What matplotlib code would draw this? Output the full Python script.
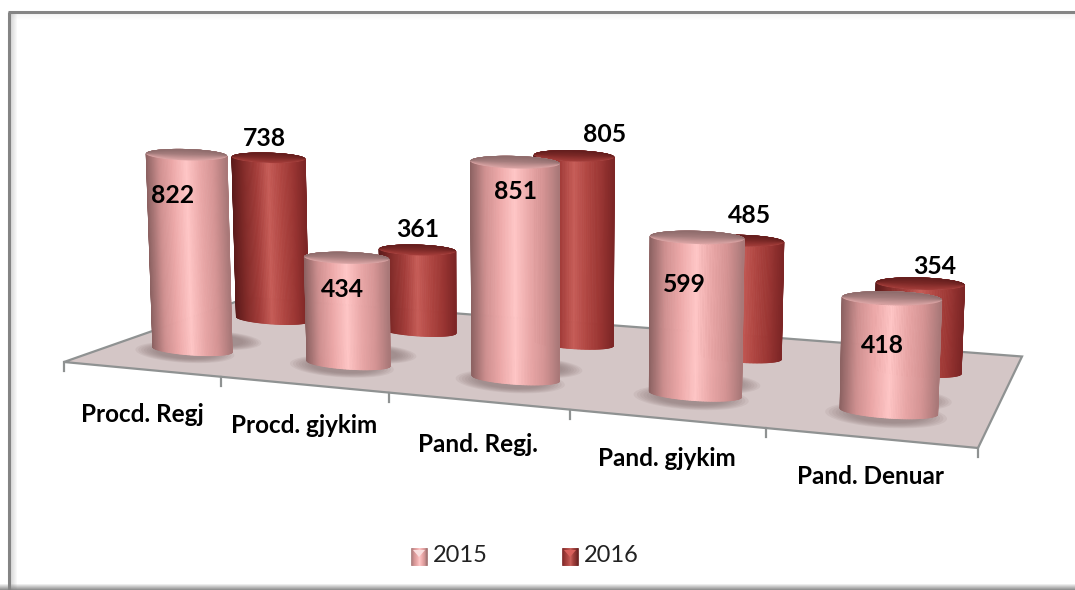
import matplotlib
matplotlib.use("Agg")
import matplotlib.pyplot as plt
import numpy as np
from matplotlib.collections import PolyCollection
from matplotlib.colors import LinearSegmentedColormap
from matplotlib.patches import Polygon, Rectangle, Ellipse

plt.rcParams["font.family"] = ["Lato", "DejaVu Sans"]

categories = ["Procd. Regj", "Procd. gjykim", "Pand. Regj.", "Pand. gjykim", "Pand. Denuar"]
years = ["2015", "2016"]
values_2015 = [822, 434, 851, 599, 418]
values_2016 = [738, 361, 805, 485, 354]

# label offsets from the top of each cylinder, picked by eye
label_off_2015 = [(-14, 41), (-4, 32), (1, 29), (-13, 47), (-9, 47)]
label_off_2016 = [(-4, -19), (0, -21), (30, -21), (8, -25), (14, -17)]
name_off = [(1, 45), (1, 41), (0, 44), (1, 40), (1, 39)]

pink = LinearSegmentedColormap.from_list("pink", ["#a97878", "#d59494", "#eaa8a8", "#ffc6c6", "#eda9a9", "#cf9090", "#8c6262"])
red = LinearSegmentedColormap.from_list("red", ["#7d2626", "#9b3633", "#b04642", "#c65c57", "#a23c39", "#842c2a", "#5c1b1b"])
pink_cap = LinearSegmentedColormap.from_list("pcap", ["#8a6868", "#a47c7c", "#d8a2a2"])
red_cap = LinearSegmentedColormap.from_list("rcap", ["#5f1c1c", "#7a2826", "#a23c39"])

# floor corners in pixels -> homography for u in 0..5, v in 0..1
src = [(0, 0), (5, 0), (5, 1), (0, 1)]
dst = [(64, 362), (978, 448), (1022, 356.5), (248, 297.5)]
A = []
b = []
for (u, v), (x, y) in zip(src, dst):
    A.append([u, v, 1, 0, 0, 0, -u * x, -v * x])
    A.append([0, 0, 0, u, v, 1, -u * y, -v * y])
    b += [x, y]
h = np.linalg.solve(np.array(A, float), np.array(b, float))
H = np.append(h, 1).reshape(3, 3)

V_FRONT, V_BACK = 0.26, 0.72


def project(u, v, z=0.0):
    # height column of the camera, vertical vanishing point far below the chart
    w0 = H[2, 0] * 0.5 + H[2, 1] * V_FRONT + 1
    bz = -0.24 * w0
    cz = bz / 12500
    az = cz * 560
    w = H[2, 0] * u + H[2, 1] * v + cz * z + 1
    x = (H[0, 0] * u + H[0, 1] * v + az * z + H[0, 2]) / w
    y = (H[1, 0] * u + H[1, 1] * v + bz * z + H[1, 2]) / w
    return x, y


fig = plt.figure(figsize=(10.75, 5.9), dpi=100)
ax = fig.add_axes([0, 0, 1, 1])
ax.set_xlim(0, 1075)
ax.set_ylim(590, 0)
ax.axis("off")

# frame: left and top lines, soft shadows, bottom fade. no line on the right
for i in range(7):
    ax.add_patch(Rectangle((10 + i, 12), 1, 578, color="#707070", alpha=0.3 * (1 - i / 7), lw=0, zorder=1))
    ax.add_patch(Rectangle((10, 13 + i), 1065, 1, color="#707070", alpha=0.08 * (1 - i / 7), lw=0, zorder=1))
    ax.add_patch(Rectangle((0, 584 + i), 1075, 1, color="#808080", alpha=(i + 1) / 7, lw=0, zorder=1))
ax.plot([9, 9], [590, 11.5], color="#848484", lw=2.2, solid_capstyle="butt", zorder=2)
ax.plot([8, 1075], [11.5, 11.5], color="#848484", lw=2.2, solid_capstyle="butt", zorder=2)

# floor
ax.add_patch(Polygon(dst, closed=True, fc="#d4c6c6", ec="#8f9292", lw=1.6, zorder=3))
for k in range(len(categories) + 1):
    x, y = project(k, 0)
    ax.plot([x, x], [y, y + 9], color="#8f9292", lw=1.6, zorder=3)


def shadow(u, v, a, zo):
    x, y = project(u, v)
    for f in np.linspace(1, 0.6, 8):
        ax.add_patch(Ellipse((x, y), 2.5 * a * f, 0.52 * a * f, angle=3.5, fc="#8a7474", ec="none", alpha=0.12, zorder=zo))


def half_width(u, v):
    local = project(u + 0.5, v)[0] - project(u - 0.5, v)[0]
    return (12 + 0.183 * local) * (1 - 0.11 * (v - V_FRONT))


def cylinder(u, v, val, cmap, capmap, zo):
    a = half_width(u, v)
    x0, y0 = project(u, v)
    x1, y1 = project(u, v, val)
    th = np.linspace(np.pi, 0, 90)
    bx = x0 + a * np.cos(th)
    by = y0 + 0.065 * a * np.cos(th) + 0.14 * a * np.sin(th)
    a1 = a * 1.02
    tx = x1 + a1 * np.cos(th)
    ty = y1 + 0.03 * a1 * np.cos(th) + 0.14 * a1 * np.sin(th)
    ty_back = y1 + 0.03 * a1 * np.cos(th) - 0.14 * a1 * np.sin(th)
    # side as thin strips, stroked in their own colour so no seams show
    t = (1 - np.cos(th)) / 2
    verts = []
    cols = []
    for i in range(len(th) - 1):
        verts.append([(bx[i], by[i]), (bx[i + 1], by[i + 1]), (tx[i + 1], ty[i + 1]), (tx[i], ty[i])])
        cols.append(cmap((t[i] + t[i + 1]) / 2))
    ax.add_collection(PolyCollection(verts, facecolors=cols, edgecolors=cols, linewidths=0.6, zorder=zo))
    # cap: lens shapes shrinking towards the back edge, darker each step
    for f in np.linspace(1, 0.1, 10):
        yf = ty_back + (ty - ty_back) * f
        pts = np.r_[np.c_[tx, ty_back], np.c_[tx[::-1], yf[::-1]]]
        ax.add_patch(Polygon(pts, closed=True, fc=capmap(f), ec="none", zorder=zo + 0.1))
    return x1, y1


for k in range(len(categories)):
    shadow(k + 0.5, V_BACK - 0.33, half_width(k + 0.5, V_BACK), 4)
    shadow(k + 0.5, V_FRONT - 0.04, half_width(k + 0.5, V_FRONT), 4)

zo = 10
for k, val in enumerate(values_2016):
    x, y = cylinder(k + 0.5, V_BACK, val, red, red_cap, zo)
    ax.text(x + label_off_2016[k][0], y + label_off_2016[k][1], str(val), ha="center", va="center",
            fontsize=17.8, fontweight="bold", color="black", zorder=40)
    zo += 1
for k, val in enumerate(values_2015):
    x, y = cylinder(k + 0.5, V_FRONT, val, pink, pink_cap, zo)
    ax.text(x + label_off_2015[k][0], y + label_off_2015[k][1], str(val), ha="center", va="center",
            fontsize=17.8, fontweight="bold", color="black", zorder=40)
    zo += 1

for k, name in enumerate(categories):
    x, y = project(k + 0.5, 0)
    ax.text(x + name_off[k][0], y + name_off[k][1], name, ha="center", va="center", fontsize=17.5,
            fontweight="bold", color="black", zorder=40)

# legend
for xi, xt, year, cmap, light in zip([411, 562], [433, 584], years, [pink, red], ["#f9dede", "#d8605c"]):
    g = np.linspace(0, 1, 17)
    cols = [cmap(v) for v in g[:-1]]
    verts = [[(xi + 16 * g[i], 548), (xi + 16 * g[i + 1], 548), (xi + 16 * g[i + 1], 565), (xi + 16 * g[i], 565)] for i in range(16)]
    ax.add_collection(PolyCollection(verts, facecolors=cols, edgecolors=cols, linewidths=0.5, zorder=5))
    ax.add_patch(Polygon([(xi + 2, 550), (xi + 14, 550), (xi + 8, 557)], fc=light, ec="none", zorder=6))
    ax.text(xt, 556, year, ha="left", va="center", fontsize=17, color="#222222", zorder=6)

fig.savefig("out.png", dpi=100)
